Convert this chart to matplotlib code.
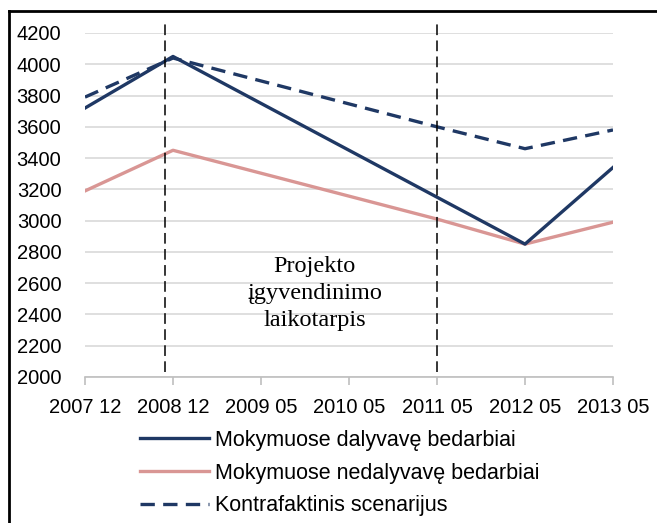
import numpy as np
import matplotlib.pyplot as plt
from matplotlib.lines import Line2D

# categories (dates) and series
categories = ["2007 12", "2008 12", "2009 05", "2010 05", "2011 05", "2012 05", "2013 05"]
dalyvave = [3720, 4050, np.nan, np.nan, 3150, 2850, 3340]
nedalyvave = [3190, 3450, np.nan, np.nan, 3010, 2850, 2990]
kontrafakt = [3790, 4040, np.nan, np.nan, 3600, 3460, 3580]
labels = ["Mokymuose dalyvavę bedarbiai",
          "Mokymuose nedalyvavę bedarbiai",
          "Kontrafaktinis scenarijus"]
yticks = list(range(2000, 4201, 200))
project_start = 0.91
project_end = 4

plt.rcParams['font.family'] = ['Liberation Sans', 'DejaVu Sans']

navy = "#1f3864"
pink = "#d99694"

fig = plt.figure(figsize=(6.57, 5.23), dpi=100)
W, H = 657, 523
ax = fig.add_axes([85 / W, 1 - 377 / H, (613 - 85) / W, (377 - 33) / H])

x = np.arange(len(categories))


def draw(vals, **kw):
    v = np.array(vals, dtype=float)
    m = ~np.isnan(v)
    return ax.plot(x[m], v[m], **kw)[0]


l1 = draw(dalyvave, color=navy, lw=2.4, zorder=4)
l2 = draw(nedalyvave, color=pink, lw=2.4, zorder=3)
l3 = draw(kontrafakt, color=navy, lw=2.4, dashes=(4.3, 2.5), zorder=4)

# project period markers
for xv in (project_start, project_end):
    ax.plot([xv, xv], [2030, 4270], color="black", lw=1.1, dashes=(7, 3.5),
            clip_on=False, zorder=5)

ax.text(2.61, 2535, "Projekto\nįgyvendinimo\nlaikotarpis", ha="center", va="center",
        family="Liberation Serif", fontsize=17.5, linespacing=1.38, zorder=6)

ax.set_xlim(0, len(categories) - 1)
ax.set_ylim(2000, 4200)
ax.set_yticks(yticks)
ax.set_xticks(x)
ax.set_xticklabels(categories)
ax.yaxis.grid(True, color="#d9d9d9", lw=1.2)
ax.set_axisbelow(True)
for s in ["top", "right", "left"]:
    ax.spines[s].set_visible(False)
ax.spines["bottom"].set_color("#bfbfbf")
ax.spines["bottom"].set_linewidth(1.2)
ax.tick_params(axis="y", length=0, pad=17, labelsize=14.5)
ax.tick_params(axis="x", length=6, width=1.2, color="#bfbfbf", pad=9, labelsize=14.5)

fig.legend([l1, l2, l3], labels, loc="center", bbox_to_anchor=(340 / W, 1 - 473 / H),
           frameon=False, fontsize=15.5, handlelength=3.2, handletextpad=0.3,
           labelspacing=0.55)

# outer frame (top and left edges visible)
fig.add_artist(Line2D([9 / W, 1.0], [1 - 11 / H, 1 - 11 / H], color="black", lw=2,
                      transform=fig.transFigure))
fig.add_artist(Line2D([9 / W, 9 / W], [0, 1 - 11 / H], color="black", lw=2,
                      transform=fig.transFigure))

fig.savefig("out.png", dpi=100)
